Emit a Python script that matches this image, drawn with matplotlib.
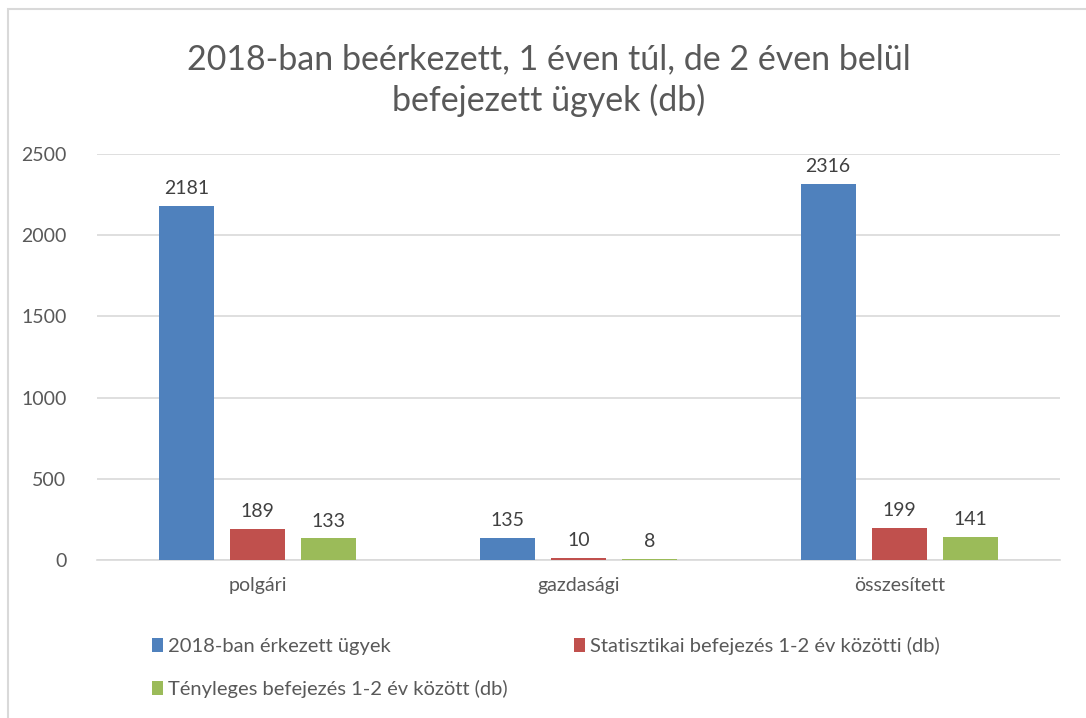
import matplotlib.pyplot as plt
import numpy as np
from matplotlib.patches import Rectangle

categories = ['polgári', 'gazdasági', 'összesített']
series_names = ['2018-ban érkezett ügyek',
                'Statisztikai befejezés 1-2 év közötti (db)',
                'Tényleges befejezés 1-2 év között (db)']
erkezett = [2181, 135, 2316]
statisztikai = [189, 10, 199]
tenyleges = [133, 8, 141]
colors = ['#4F81BD', '#C0504D', '#9BBB59']

plt.rcParams['font.family'] = ['Lato', 'DejaVu Sans']
text_color = '#595959'

fig = plt.figure(figsize=(10.86, 7.18), dpi=100)
ax = fig.add_axes([0.0893, 0.22, 0.8867, 0.5655])

x = np.arange(len(categories))
width = 0.172
step = 0.222
bars = []
for i, (vals, name) in enumerate(zip([erkezett, statisztikai, tenyleges], series_names)):
    b = ax.bar(x + (i - 1) * step, vals, width, color=colors[i], label=name, zorder=3)
    bars.append(b)
    for rect, v in zip(b, vals):
        ax.text(rect.get_x() + rect.get_width() / 2, v + 55, str(v),
                ha='center', va='bottom', fontsize=14, color='#404040')

ax.set_xlim(-0.5, 2.5)
ax.set_ylim(0, 2500)
ax.set_yticks(range(0, 2501, 500))
ax.set_xticks(x)
ax.set_xticklabels(categories)
ax.tick_params(length=0, labelsize=14, colors=text_color)
ax.tick_params(axis='x', pad=12)
ax.tick_params(axis='y', pad=22)
ax.grid(axis='y', color='#d9d9d9', linewidth=1.2, zorder=0)
for s in ['top', 'right', 'left']:
    ax.spines[s].set_visible(False)
ax.spines['bottom'].set_color('#d9d9d9')
ax.spines['bottom'].set_linewidth(1.2)

fig.text(0.505, 0.889, '2018-ban beérkezett, 1 éven túl, de 2 éven belül\nbefejezett ügyek (db)',
         ha='center', va='center', fontsize=24.5, color=text_color, linespacing=1.32)

# legend fills column-wise, so order handles to read row-wise
order = [0, 2, 1]
fig.legend(handles=[bars[k] for k in order], labels=[series_names[k] for k in order],
           loc='upper left', bbox_to_anchor=(0.123, 0.138), ncol=2, frameon=False,
           fontsize=14.5, handlelength=0.55, handleheight=0.7, handletextpad=0.25,
           columnspacing=3.3, labelspacing=1.25, labelcolor=text_color)

# chart frame
fig.patches.append(Rectangle((8 / 1086, -0.05), 1.2, 1 - 9 / 718 + 0.05,
                             transform=fig.transFigure, fill=False,
                             edgecolor='#d9d9d9', linewidth=1.5))

fig.savefig('out.png', dpi=100)
